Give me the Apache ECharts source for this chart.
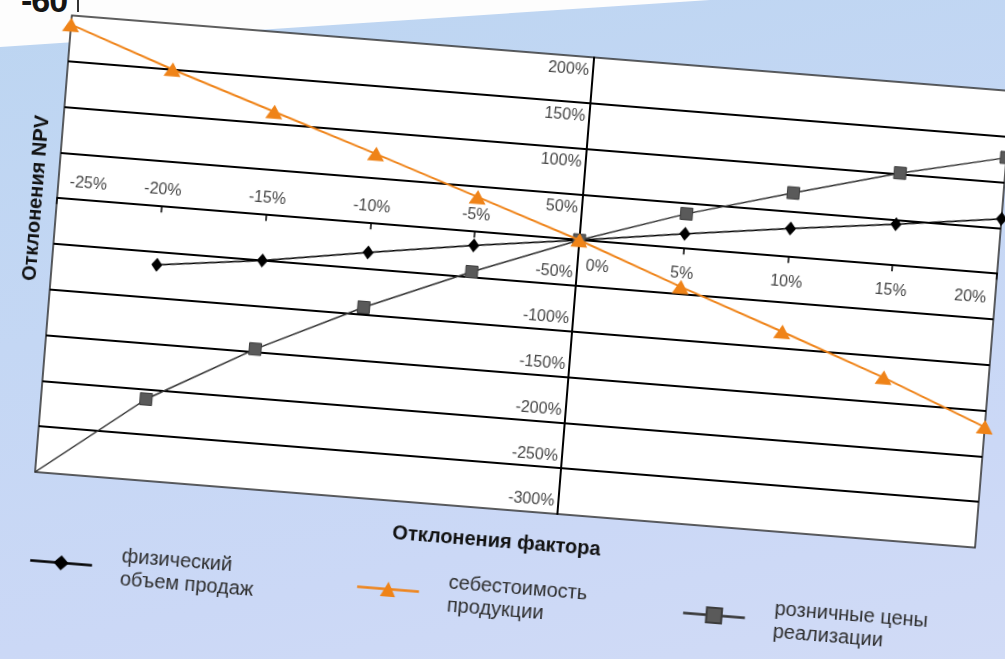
<!DOCTYPE html>
<html>
<head>
<meta charset="utf-8">
<script src="https://cdn.jsdelivr.net/npm/echarts@6/dist/echarts.min.js"></script>
<style>
  html, body { margin: 0; padding: 0; width: 1005px; height: 659px; overflow: hidden; }
  body {
    position: relative;
    background: linear-gradient(168deg, #bcd5f1 0%, #c4d7f4 40%, #cbd8f6 75%, #d1dbf6 100%);
    font-family: "Liberation Sans", Arial, sans-serif;
  }
  /* corner of the preceding sheet with the tail of its axis */
  #sheet { position: absolute; left: 0; top: 0; width: 1005px; height: 659px; background: #fdfdfd;
           clip-path: polygon(0 0, 710px 0, 0 47px); }
  #prev { position: absolute; left: 21px; top: -17px; font: bold 34px/34px "Liberation Sans", sans-serif;
          color: #151515; letter-spacing: -1px; }
  #prevTick { position: absolute; left: 77px; top: 0; width: 2px; height: 12px; background: #333; }
  #chart { position: absolute; left: 0; top: 0; width: 1005px; height: 659px;
           transform: rotate(4.6deg); transform-origin: 50% 50%; }
</style>
</head>
<body>
<div id="sheet"></div>
<div id="prev">-60</div>
<div id="prevTick"></div>
<div id="chart"></div>
<script>
// Factor deviation (category axis)
const categories = ['-25%', '-20%', '-15%', '-10%', '-5%', '0%', '5%', '10%', '15%', '20%'];

// NPV deviation, % — one array per factor
const salesVolume = [null, -64, -50, -32, -15, 0, 16, 31, 45, 60];
const productCost = [190, 150, 113, 76, 38, 0, -42, -82, -123, -168];
const retailPrice = [-300, -211, -147, -92, -44, 0, 38, 70, 101, 127];

const seriesNames = ['физический\nобъем продаж', 'себестоимость\nпродукции', 'розничные цены\nреализации'];
const xTitle = 'Отклонения фактора';
const yTitle = 'Отклонения NPV';

// value axis scale
const yMin = -300, yMax = 200, yStep = 50;

// plot geometry (px)
const W = 1005, H = 659;
const gridLeft = 48, gridRight = 14, gridTop = 51, gridBottom = 150;
const plotW = W - gridLeft - gridRight;
const plotH = H - gridTop - gridBottom;
const zeroIndex = categories.indexOf('0%');
// the value axis sits on the 0% category, the category axis on the 0 value
const yAxisShift = plotW * zeroIndex / (categories.length - 1);
const xAxisShift = plotH * (0 - yMin) / (yMax - yMin);

const tickFont = { fontSize: 16, color: '#474747', fontFamily: 'Liberation Sans', lineHeight: 16 };

const chart = echarts.init(document.getElementById('chart'), null, { renderer: 'canvas', width: W, height: H });

chart.setOption({
  animation: false,
  backgroundColor: 'transparent',
  textStyle: { fontFamily: 'Liberation Sans' },
  grid: {
    left: gridLeft, right: gridRight, top: gridTop, bottom: gridBottom,
    outerBoundsMode: 'none', containLabel: false,
    show: true, backgroundColor: '#ffffff', borderColor: '#2a2a2a', borderWidth: 1.5
  },
  xAxis: {
    type: 'category',
    data: categories,
    boundaryGap: false,
    offset: -xAxisShift,
    axisLine: { onZero: false, lineStyle: { color: '#000', width: 2 } },
    axisTick: { show: true, alignWithLabel: true, length: 6, lineStyle: { color: '#000', width: 1.5 } },
    axisLabel: {
      interval: 0,
      margin: 4,
      hideOverlap: false,
      showMinLabel: true, showMaxLabel: true,
      verticalAlign: 'middle',
      formatter: function (v, i) {
        if (i === 0) return '{first|' + v + '}';
        if (i === categories.length - 1) return '{last|' + v + '}';
        if (v === '0%') return '{zero|' + v + '}';
        if (v.charAt(0) === '-') return '{neg|' + v + '}';
        return '{pos|' + v + '}';
      },
      rich: {
        neg: Object.assign({ padding: [0, 0, 42, 0] }, tickFont),
        pos: Object.assign({ padding: [42, 0, 0, 0] }, tickFont),
        zero: Object.assign({ padding: [42, 0, 0, 40] }, tickFont),
        first: Object.assign({ padding: [0, 0, 42, 60] }, tickFont),
        last: Object.assign({ padding: [42, 50, 0, 0] }, tickFont)
      }
    },
    splitLine: { show: false }
  },
  yAxis: {
    type: 'value',
    min: yMin, max: yMax, interval: yStep,
    offset: -yAxisShift,
    axisLine: { show: true, onZero: false, lineStyle: { color: '#000', width: 2 } },
    axisTick: { show: false },
    axisLabel: {
      margin: 4,
      hideOverlap: false,
      showMinLabel: true, showMaxLabel: true,
      formatter: function (v) {
        if (v === 0) return '';
        return (v > 0 ? '{pos|' : '{neg|') + v + '%}';
      },
      rich: {
        pos: Object.assign({}, tickFont, { padding: [28, 0, 0, 0], lineHeight: 14 }),
        neg: Object.assign({}, tickFont, { padding: [0, 0, 24, 0], lineHeight: 14 })
      }
    },
    splitLine: { show: true, showMinLine: false, showMaxLine: false, lineStyle: { color: '#000', width: 2 } }
  },
  legend: seriesNames.map(function (name, i) {
    return {
      data: [name],
      left: [49, 377, 704][i],
      top: 563,
      padding: 0,
      itemWidth: 62,
      itemHeight: 19,
      selectedMode: false,
      lineStyle: { width: 2.5 },
      textStyle: { fontSize: 20, color: '#2e2e2e', lineHeight: 23, padding: [23, 0, 0, 24], fontFamily: 'Liberation Sans' }
    };
  }),
  graphic: [
    {
      type: 'text', x: gridLeft + plotW / 2 - 6, y: 541,
      style: { text: xTitle, font: 'bold 20px "Liberation Sans"', fill: '#111', align: 'center', verticalAlign: 'middle' }
    },
    {
      type: 'text', x: 27, y: 236, rotation: Math.PI / 2,
      style: { text: yTitle, font: 'bold 20px "Liberation Sans"', fill: '#111', align: 'center', verticalAlign: 'middle' }
    }
  ],
  series: [
    {
      name: seriesNames[0], type: 'line', data: salesVolume,
      symbol: 'diamond', symbolSize: [11, 14],
      lineStyle: { color: '#000', width: 1.6 },
      itemStyle: { color: '#000' },
      z: 3
    },
    {
      name: seriesNames[1], type: 'line', data: productCost,
      symbol: 'triangle', symbolSize: [17, 14],
      lineStyle: { color: '#ef8318', width: 2 },
      itemStyle: { color: '#ef8318' },
      z: 5
    },
    {
      name: seriesNames[2], type: 'line',
      data: retailPrice.map(function (v, i) { return i === 0 ? { value: v, symbol: 'none' } : v; }),
      symbol: 'rect', symbolSize: 12,
      lineStyle: { color: '#333', width: 1.5 },
      itemStyle: { color: '#5a5a5a', borderColor: '#3c3c3c', borderWidth: 1 },
      z: 4
    }
  ]
});
</script>
</body>
</html>
